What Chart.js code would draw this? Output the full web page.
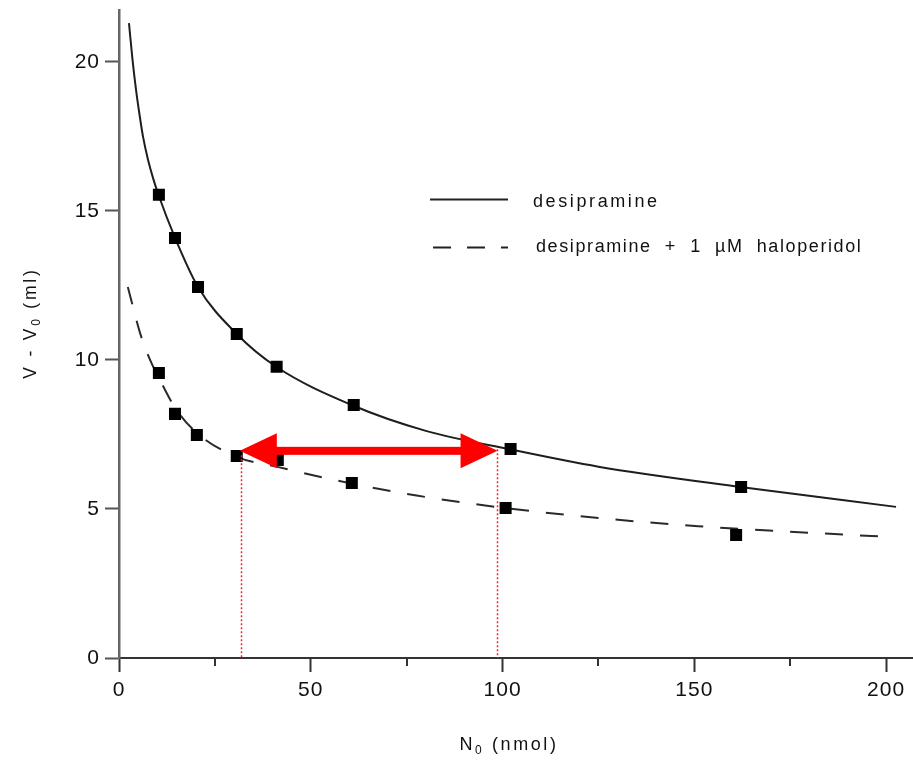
<!DOCTYPE html>
<html><head><meta charset="utf-8">
<script src="https://cdn.jsdelivr.net/npm/chart.js@4.4.0/dist/chart.umd.min.js"></script>
<style>html,body{margin:0;padding:0;background:#fff}#wrap{width:913px;height:761px}</style>
</head><body><div id="wrap"><canvas id="c" width="913" height="761"></canvas></div>
<script>
// measured data (desipramine alone)
const desiX = [10.4, 14.6, 20.6, 30.7, 41.1, 61.2, 102.1, 162.2];
const desiY = [15.54, 14.09, 12.45, 10.87, 9.77, 8.49, 7.01, 5.74];
// measured data (desipramine + 1 µM haloperidol)
const haloX = [10.4, 14.6, 20.3, 30.7, 41.4, 60.7, 100.8, 160.9];
const haloY = [9.56, 8.19, 7.48, 6.78, 6.64, 5.87, 5.03, 4.13];
// fitted curves
const desiFitX = [2.6, 3.5, 4.5, 5.5, 6.25, 7.5, 9, 10.4, 14.6, 20.6, 30.7, 41, 61, 80, 102, 125, 162, 202.6];
const desiFitY = [21.3, 20.1, 19.0, 18.1, 17.5, 16.75, 16.05, 15.5, 14.1, 12.45, 10.87, 9.77, 8.47, 7.62, 7.0, 6.42, 5.74, 5.07];
const haloFitX = [2.3, 5.5, 8.1, 10.4, 14.6, 20.3, 30.7, 41, 60.7, 77.6, 100.8, 126.6, 151, 200.8];
const haloFitY = [12.45, 10.9, 10.0, 9.4, 8.4, 7.55, 6.75, 6.42, 5.85, 5.45, 5.03, 4.68, 4.42, 4.06];
// axes
const xMajorTicks = [0, 50, 100, 150, 200];
const xMinorTicks = [25, 75, 125, 175];
const yTicks = [0, 5, 10, 15, 20];
// annotation: red double arrow and drop lines
const arrowX = [31.5, 98.7];
const arrowY = 6.95;
const dropX = [31.7, 98.6];
const dropTop = [6.8, 7.0];
const legendLabels = ['desipramine', 'desipramine  +  1  µM  haloperidol'];
const xTitle = ['N', '0', ' (nmol)'];
const yTitle = ['V - V', '0', ' (ml)'];

const FONT = "'Liberation Sans', Arial, Helvetica, sans-serif";
const pts = (xs, ys) => xs.map((x, i) => ({x: x, y: ys[i]}));

function drawSubText(ctx, parts, size, subSize, align) {
  ctx.font = size + 'px ' + FONT;
  const w0 = ctx.measureText(parts[0]).width;
  const w2 = ctx.measureText(parts[2]).width;
  ctx.font = subSize + 'px ' + FONT;
  const w1 = ctx.measureText(parts[1]).width;
  const total = w0 + w1 + w2;
  let x = align === 'center' ? -total / 2 : 0;
  ctx.textAlign = 'left';
  ctx.textBaseline = 'alphabetic';
  ctx.font = size + 'px ' + FONT;
  ctx.fillText(parts[0], x, 0); x += w0;
  ctx.font = subSize + 'px ' + FONT;
  ctx.fillText(parts[1], x, 4); x += w1;
  ctx.font = size + 'px ' + FONT;
  ctx.fillText(parts[2], x, 0);
}

const deco = {
  id: 'deco',
  beforeDraw(chart) { chart.ctx.letterSpacing = '1px'; },
  afterDatasetsDraw(chart) {
    const ctx = chart.ctx, xs = chart.scales.x, ys = chart.scales.y;
    ctx.save();
    ctx.letterSpacing = '0px';
    ctx.strokeStyle = '#ff2020';
    ctx.lineWidth = 1.5;
    ctx.setLineDash([2, 2]);
    for (let i = 0; i < dropX.length; i++) {
      const px = Math.round(xs.getPixelForValue(dropX[i])) + 0.5;
      ctx.beginPath();
      ctx.moveTo(px, ys.getPixelForValue(dropTop[i]));
      ctx.lineTo(px, ys.getPixelForValue(0));
      ctx.stroke();
    }
    ctx.setLineDash([]);
    const x1 = xs.getPixelForValue(arrowX[0]), x2 = xs.getPixelForValue(arrowX[1]);
    const y = ys.getPixelForValue(arrowY);
    const hl = 37, hw = 17.5, sw = 4;
    ctx.fillStyle = '#ff0000';
    ctx.fillRect(x1 + hl - 2, y - sw, (x2 - x1) - 2 * hl + 4, 2 * sw);
    ctx.beginPath();
    ctx.moveTo(x1, y); ctx.lineTo(x1 + hl, y - hw); ctx.lineTo(x1 + hl, y + hw); ctx.closePath();
    ctx.fill();
    ctx.beginPath();
    ctx.moveTo(x2, y); ctx.lineTo(x2 - hl, y - hw); ctx.lineTo(x2 - hl, y + hw); ctx.closePath();
    ctx.fill();
    ctx.restore();
  },
  afterDraw(chart) {
    const ctx = chart.ctx, xs = chart.scales.x, ys = chart.scales.y;
    ctx.save();
    ctx.strokeStyle = '#333';
    ctx.lineWidth = 2;
    const y0 = ys.getPixelForValue(0);
    // axis line runs on to the right edge, as in the original figure
    ctx.beginPath(); ctx.moveTo(chart.chartArea.right - 1, y0); ctx.lineTo(chart.width, y0); ctx.stroke();
    xMinorTicks.forEach(v => {
      const px = Math.round(xs.getPixelForValue(v));
      ctx.beginPath(); ctx.moveTo(px, y0); ctx.lineTo(px, y0 + 8); ctx.stroke();
    });
    ctx.fillStyle = '#111';
    ctx.letterSpacing = '2.6px';
    ctx.save();
    ctx.translate(509, 750);
    drawSubText(ctx, xTitle, 18, 12, 'center');
    ctx.restore();
    ctx.save();
    ctx.translate(36, 323);
    ctx.rotate(-Math.PI / 2);
    ctx.letterSpacing = '2.8px';
    drawSubText(ctx, yTitle, 17.5, 12, 'center');
    ctx.restore();
    ctx.strokeStyle = '#222';
    ctx.lineWidth = 2;
    ctx.beginPath(); ctx.moveTo(430, 199.5); ctx.lineTo(508, 199.5); ctx.stroke();
    ctx.setLineDash([18, 16]);
    ctx.beginPath(); ctx.moveTo(433, 247.5); ctx.lineTo(508, 247.5); ctx.stroke();
    ctx.setLineDash([]);
    ctx.textAlign = 'left';
    ctx.textBaseline = 'alphabetic';
    ctx.font = '18px ' + FONT;
    ctx.letterSpacing = '2.6px';
    ctx.fillText(legendLabels[0], 533, 207);
    ctx.letterSpacing = '1.6px';
    ctx.fillText(legendLabels[1], 536, 252);
    ctx.restore();
    ctx.letterSpacing = '0px';
  }
};

new Chart(document.getElementById('c'), {
  type: 'scatter',
  data: {
    datasets: [
      {label: 'desipramine fit', data: pts(desiFitX, desiFitY), showLine: true, borderColor: '#1e1e1e', borderWidth: 2, pointRadius: 0, cubicInterpolationMode: 'monotone', order: 2},
      {label: 'haloperidol fit', data: pts(haloFitX, haloFitY), showLine: true, borderColor: '#2a2a2a', borderWidth: 2, borderDash: [18, 17], pointRadius: 0, cubicInterpolationMode: 'monotone', order: 2},
      {label: 'desipramine', data: pts(desiX, desiY), showLine: false, pointStyle: 'rect', pointRadius: 8.5, pointBorderWidth: 0, pointBackgroundColor: '#000', order: 1},
      {label: 'desipramine + 1 µM haloperidol', data: pts(haloX, haloY), showLine: false, pointStyle: 'rect', pointRadius: 8.5, pointBorderWidth: 0, pointBackgroundColor: '#000', order: 1}
    ]
  },
  options: {
    responsive: false,
    animation: false,
    devicePixelRatio: 1,
    layout: {padding: {top: 10, right: 0, left: 0, bottom: 0}},
    plugins: {legend: {display: false}, tooltip: {enabled: false}},
    scales: {
      x: {
        type: 'linear', min: 0, max: 204.8,
        afterFit(s) { s.height = 103; s.paddingLeft = 0; s.paddingRight = 0; },
        afterBuildTicks(s) { s.ticks = xMajorTicks.map(v => ({value: v})); },
        ticks: {font: {family: FONT, size: 21}, color: '#111', padding: 6, maxRotation: 0, autoSkip: false},
        grid: {drawOnChartArea: false, drawTicks: true, tickLength: 14, tickWidth: 2, tickColor: '#333'},
        border: {display: true, color: '#333', width: 2}
      },
      y: {
        type: 'linear', min: 0, max: 21.74,
        afterFit(s) { s.width = 119; s.paddingTop = 0; s.paddingBottom = 0; },
        afterBuildTicks(s) { s.ticks = yTicks.map(v => ({value: v})); },
        ticks: {font: {family: FONT, size: 21}, color: '#111', padding: 5, autoSkip: false},
        grid: {drawOnChartArea: false, drawTicks: true, tickLength: 14, tickWidth: 2, tickColor: '#555'},
        border: {display: true, color: '#666', width: 2.5}
      }
    }
  },
  plugins: [deco]
});
</script>
</body></html>
